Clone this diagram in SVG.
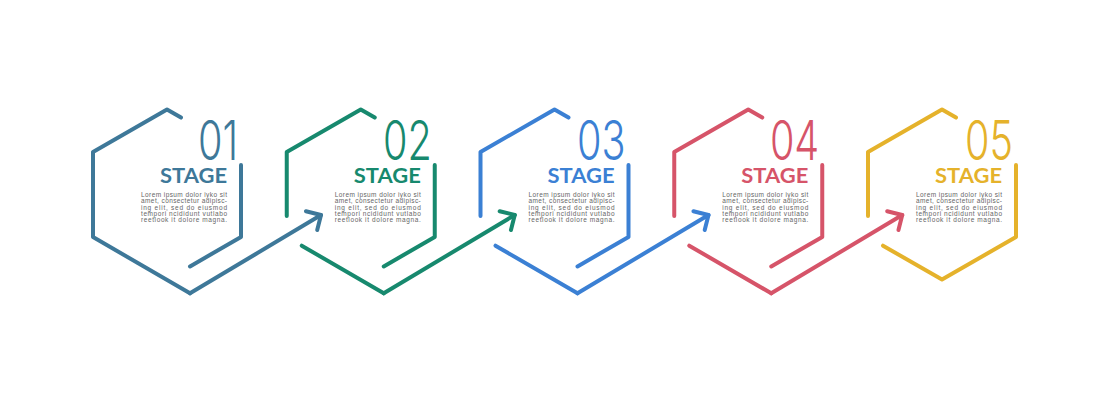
<svg xmlns="http://www.w3.org/2000/svg" width="1117" height="400" viewBox="0 0 1117 400">
<style>
.ln{fill:none;stroke-width:4;stroke-linecap:round;stroke-linejoin:round}
.num{font-family:Inter,"Liberation Sans",sans-serif;font-weight:300;font-size:55px;text-anchor:end}
.stg{font-family:Lato,"Liberation Sans",sans-serif;font-weight:700;font-size:21px;text-anchor:end}
.body{font-family:"Liberation Sans",Arial,sans-serif;font-size:6.5px;fill:#666}
.c1{stroke:#3e7899}.f1{fill:#3e7899}
.c2{stroke:#17896e}.f2{fill:#17896e}
.c3{stroke:#3b80d4}.f3{fill:#3b80d4}
.c4{stroke:#d65469}.f4{fill:#d65469}
.c5{stroke:#e5b22b}.f5{fill:#e5b22b}
</style>
<defs>
<marker id="m1" markerUnits="userSpaceOnUse" viewBox="-16 -14 20 28" markerWidth="20" markerHeight="28" refX="0" refY="0" orient="auto" overflow="visible"><path class="ln c1" d="M-11,-11 L0,0 L-11,11"/></marker>
<marker id="m2" markerUnits="userSpaceOnUse" viewBox="-16 -14 20 28" markerWidth="20" markerHeight="28" refX="0" refY="0" orient="auto" overflow="visible"><path class="ln c2" d="M-11,-11 L0,0 L-11,11"/></marker>
<marker id="m3" markerUnits="userSpaceOnUse" viewBox="-16 -14 20 28" markerWidth="20" markerHeight="28" refX="0" refY="0" orient="auto" overflow="visible"><path class="ln c3" d="M-11,-11 L0,0 L-11,11"/></marker>
<marker id="m4" markerUnits="userSpaceOnUse" viewBox="-16 -14 20 28" markerWidth="20" markerHeight="28" refX="0" refY="0" orient="auto" overflow="visible"><path class="ln c4" d="M-11,-11 L0,0 L-11,11"/></marker>
</defs>
<rect width="1117" height="400" fill="#fff"/>

<g id="stage1" transform="translate(167 0)">
<path class="ln c1" d="M14,117.6 L0,109.5 L-74,152 L-74,237 L23,293.3 M74,165 L74,237 L23,266.4"/>
<g transform="translate(71 160) scale(0.72 1)"><text class="num f1" x="0" y="0">01</text></g>
<text class="stg f1" x="60" y="183" textLength="67" lengthAdjust="spacingAndGlyphs">STAGE</text>
<g class="body">
<text x="-26" y="197" textLength="86" lengthAdjust="spacing">Lorem ipsum dolor iyko sit</text>
<text x="-26" y="203.3" textLength="86" lengthAdjust="spacing">amet, consectetur adipisc-</text>
<text x="-26" y="209.6" textLength="86" lengthAdjust="spacing">ing elit, sed do eiusmod</text>
<text x="-26" y="215.9" textLength="86" lengthAdjust="spacing">tempori ncididunt vutlabo</text>
<text x="-26" y="222.2" textLength="86" lengthAdjust="spacing">reetlook  it dolore magna.</text>
</g>
</g>

<g id="stage2" transform="translate(360.75 0)">
<path class="ln c2" d="M14,117.6 L0,109.5 L-74,152 L-74,216 M-59,245.7 L23,293.3 M74,165 L74,237 L23,266.4"/>
<g transform="translate(71 160) scale(0.72 1)"><text class="num f2" x="0" y="0">02</text></g>
<text class="stg f2" x="60" y="183" textLength="67" lengthAdjust="spacingAndGlyphs">STAGE</text>
<g class="body">
<text x="-26" y="197" textLength="86" lengthAdjust="spacing">Lorem ipsum dolor iyko sit</text>
<text x="-26" y="203.3" textLength="86" lengthAdjust="spacing">amet, consectetur adipisc-</text>
<text x="-26" y="209.6" textLength="86" lengthAdjust="spacing">ing elit, sed do eiusmod</text>
<text x="-26" y="215.9" textLength="86" lengthAdjust="spacing">tempori ncididunt vutlabo</text>
<text x="-26" y="222.2" textLength="86" lengthAdjust="spacing">reetlook  it dolore magna.</text>
</g>
</g>

<g id="stage3" transform="translate(554.5 0)">
<path class="ln c3" d="M14,117.6 L0,109.5 L-74,152 L-74,216 M-59,245.7 L23,293.3 M74,165 L74,237 L23,266.4"/>
<g transform="translate(71 160) scale(0.72 1)"><text class="num f3" x="0" y="0">03</text></g>
<text class="stg f3" x="60" y="183" textLength="67" lengthAdjust="spacingAndGlyphs">STAGE</text>
<g class="body">
<text x="-26" y="197" textLength="86" lengthAdjust="spacing">Lorem ipsum dolor iyko sit</text>
<text x="-26" y="203.3" textLength="86" lengthAdjust="spacing">amet, consectetur adipisc-</text>
<text x="-26" y="209.6" textLength="86" lengthAdjust="spacing">ing elit, sed do eiusmod</text>
<text x="-26" y="215.9" textLength="86" lengthAdjust="spacing">tempori ncididunt vutlabo</text>
<text x="-26" y="222.2" textLength="86" lengthAdjust="spacing">reetlook  it dolore magna.</text>
</g>
</g>

<g id="stage4" transform="translate(748.25 0)">
<path class="ln c4" d="M14,117.6 L0,109.5 L-74,152 L-74,216 M-59,245.7 L23,293.3 M74,165 L74,237 L23,266.4"/>
<g transform="translate(71 160) scale(0.72 1)"><text class="num f4" x="0" y="0">04</text></g>
<text class="stg f4" x="60" y="183" textLength="67" lengthAdjust="spacingAndGlyphs">STAGE</text>
<g class="body">
<text x="-26" y="197" textLength="86" lengthAdjust="spacing">Lorem ipsum dolor iyko sit</text>
<text x="-26" y="203.3" textLength="86" lengthAdjust="spacing">amet, consectetur adipisc-</text>
<text x="-26" y="209.6" textLength="86" lengthAdjust="spacing">ing elit, sed do eiusmod</text>
<text x="-26" y="215.9" textLength="86" lengthAdjust="spacing">tempori ncididunt vutlabo</text>
<text x="-26" y="222.2" textLength="86" lengthAdjust="spacing">reetlook  it dolore magna.</text>
</g>
</g>

<g id="stage5" transform="translate(942 0)">
<path class="ln c5" d="M14,117.6 L0,109.5 L-74,152 L-74,216 M-59,245.7 L0,279.5 L74,237 L74,165"/>
<g transform="translate(71 160) scale(0.72 1)"><text class="num f5" x="0" y="0">05</text></g>
<text class="stg f5" x="60" y="183" textLength="67" lengthAdjust="spacingAndGlyphs">STAGE</text>
<g class="body">
<text x="-26" y="197" textLength="86" lengthAdjust="spacing">Lorem ipsum dolor iyko sit</text>
<text x="-26" y="203.3" textLength="86" lengthAdjust="spacing">amet, consectetur adipisc-</text>
<text x="-26" y="209.6" textLength="86" lengthAdjust="spacing">ing elit, sed do eiusmod</text>
<text x="-26" y="215.9" textLength="86" lengthAdjust="spacing">tempori ncididunt vutlabo</text>
<text x="-26" y="222.2" textLength="86" lengthAdjust="spacing">reetlook  it dolore magna.</text>
</g>
</g>

<g id="connectors">
<path class="ln c1" d="M190,293.3 L321,215" marker-end="url(#m1)"/>
<path class="ln c2" d="M383.75,293.3 L514.75,215" marker-end="url(#m2)"/>
<path class="ln c3" d="M577.5,293.3 L708.5,215" marker-end="url(#m3)"/>
<path class="ln c4" d="M771.25,293.3 L902.25,215" marker-end="url(#m4)"/>
</g>
</svg>
